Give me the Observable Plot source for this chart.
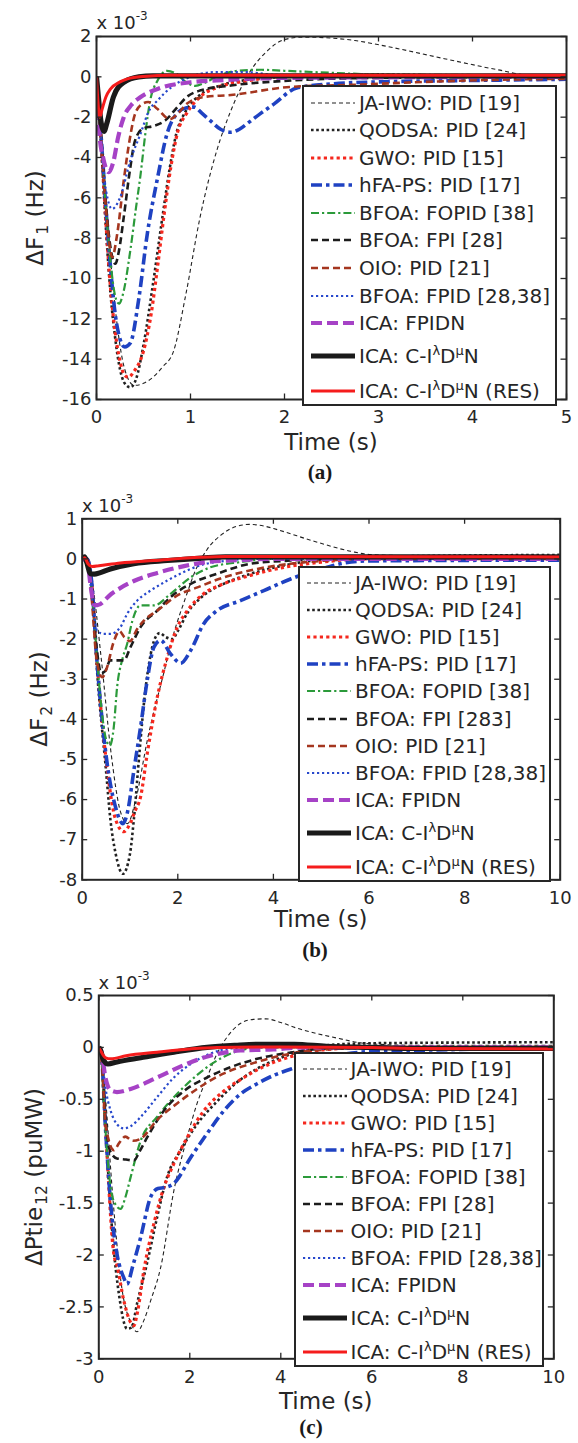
<!DOCTYPE html>
<html><head><meta charset="utf-8">
<script src="https://cdn.jsdelivr.net/npm/d3@7"></script>
<script src="https://cdn.jsdelivr.net/npm/@observablehq/plot@0.6"></script>
<style>
body{margin:0;background:#fff;}
#fig{position:relative;width:578px;height:1443px;overflow:hidden;background:#fff;font-family:"DejaVu Sans",sans-serif;color:#262626;}
.lbl{position:absolute;white-space:nowrap;line-height:1;}
.legend{position:absolute;background:#fff;border:2px solid #262626;box-sizing:border-box;}
.legend .row{position:absolute;white-space:nowrap;line-height:1;font-size:20px;transform:translateY(-50%);}
.legend svg{position:absolute;overflow:visible;}
.sup{font-size:0.65em;position:relative;top:-0.62em;vertical-align:baseline;}
.sub{font-size:0.68em;position:relative;top:0.32em;vertical-align:baseline;margin-left:2px;}
</style>
</head><body><div id="fig"></div>
<script>
// ---------- tick values ----------
const xTicksA = [0, 1, 2, 3, 4, 5];
const yTicksA = [2, 0, -2, -4, -6, -8, -10, -12, -14, -16];
const xTicksB = [0, 2, 4, 6, 8, 10];
const yTicksB = [1, 0, -1, -2, -3, -4, -5, -6, -7, -8];
const xTicksC = [0, 2, 4, 6, 8, 10];
const yTicksC = [0.5, 0, -0.5, -1, -1.5, -2, -2.5, -3];

// ---------- legend labels ----------
const legendLabelsA = ["JA-IWO: PID [19]", "QODSA: PID [24]", "GWO: PID [15]", "hFA-PS: PID [17]", "BFOA: FOPID [38]", "BFOA: FPI [28]", "OIO: PID [21]", "BFOA: FPID [28,38]", "ICA: FPIDN", "ICA: C-I<span class='sup'>λ</span>D<span class='sup'>μ</span>N", "ICA: C-I<span class='sup'>λ</span>D<span class='sup'>μ</span>N (RES)"];
const legendLabelsB = ["JA-IWO: PID [19]", "QODSA: PID [24]", "GWO: PID [15]", "hFA-PS: PID [17]", "BFOA: FOPID [38]", "BFOA: FPI [283]", "OIO: PID [21]", "BFOA: FPID [28,38]", "ICA: FPIDN", "ICA: C-I<span class='sup'>λ</span>D<span class='sup'>μ</span>N", "ICA: C-I<span class='sup'>λ</span>D<span class='sup'>μ</span>N (RES)"];
const legendLabelsC = legendLabelsA;

// ---------- panel (a): ΔF1, [time s, value x1e-3] ----------
const a_JAIWO = [[0,0],[0.05,-2.5],[0.1,-6],[0.2,-11.5],[0.3,-14.5],[0.4,-15.3],[0.5,-15.2],[0.6,-14.9],[0.7,-14.4],[0.82,-13.6],[0.95,-10.8],[1.1,-7.0],[1.28,-3.65],[1.43,-1.67],[1.6,0],[1.82,1.3],[2.0,1.85],[2.2,1.97],[2.5,1.92],[2.75,1.8],[3.1,1.5],[3.7,0.9],[4.27,0.35],[4.6,0.08],[5,0.05]];
const a_QODSA = [[0,0],[0.05,-3.5],[0.1,-7.5],[0.15,-10.8],[0.2,-13],[0.25,-14.5],[0.3,-15.2],[0.36,-15.4],[0.42,-15.0],[0.5,-13.3],[0.6,-10.3],[0.7,-7.0],[0.78,-4.5],[0.85,-2.8],[0.95,-1.7],[1.1,-0.9],[1.3,-0.45],[1.6,-0.15],[2.0,0],[2.5,0.1],[3.0,0.12],[3.5,0.08],[5,0.05]];
const a_GWO = [[0,0],[0.05,-3.3],[0.1,-7.2],[0.15,-10.5],[0.2,-12.7],[0.25,-14.1],[0.3,-14.8],[0.34,-14.9],[0.4,-14.6],[0.5,-13.6],[0.58,-11.8],[0.65,-9.4],[0.72,-6.8],[0.79,-4.5],[0.86,-2.8],[0.96,-1.8],[1.1,-1.0],[1.3,-0.5],[1.6,-0.2],[2.0,0],[3,0.05],[5,0.05]];
const a_hFAPS = [[0,0],[0.05,-3],[0.1,-6.5],[0.15,-9.5],[0.2,-11.8],[0.25,-13.0],[0.3,-13.4],[0.36,-13.2],[0.45,-11.0],[0.54,-7.8],[0.65,-5.0],[0.75,-2.83],[0.85,-1.85],[0.95,-1.55],[1.04,-1.5],[1.12,-1.8],[1.21,-2.17],[1.32,-2.6],[1.43,-2.75],[1.52,-2.6],[1.6,-2.33],[1.75,-1.8],[1.89,-1.34],[2.13,-0.55],[2.5,-0.35],[3,-0.25],[4,-0.18],[5,-0.12]];
const a_FOPID = [[0,0],[0.05,-3],[0.1,-6.5],[0.15,-9.2],[0.2,-10.9],[0.24,-11.25],[0.28,-10.8],[0.36,-8.6],[0.42,-6.5],[0.47,-4.8],[0.52,-2.8],[0.57,-1.2],[0.65,-0.18],[0.75,0.3],[0.85,0.15],[0.95,-0.25],[1.05,-0.45],[1.15,-0.3],[1.3,0.05],[1.5,0.3],[1.75,0.35],[2.0,0.3],[2.5,0.2],[3,0.12],[5,0.08]];
const a_FPI = [[0,0],[0.05,-3],[0.1,-6.3],[0.15,-8.5],[0.2,-9.27],[0.24,-8.6],[0.29,-6.96],[0.36,-4.48],[0.41,-3.16],[0.5,-2.55],[0.6,-2.45],[0.73,-2.17],[0.86,-1.5],[0.96,-1.0],[1.1,-0.68],[1.43,-0.43],[2.0,-0.2],[3,-0.05],[5,0]];
const a_OIO = [[0,0],[0.05,-3.2],[0.1,-6.5],[0.167,-8.94],[0.22,-7.8],[0.29,-5.14],[0.35,-3.2],[0.4,-2.0],[0.47,-1.4],[0.55,-1.25],[0.65,-1.6],[0.78,-2.1],[0.87,-1.8],[0.96,-1.34],[1.14,-1.0],[1.43,-0.9],[2.06,-0.5],[2.7,-0.4],[3.5,-0.25],[4.2,-0.15],[5,-0.1]];
const a_FPID = [[0,0],[0.05,-3],[0.1,-5.6],[0.167,-6.55],[0.25,-6.0],[0.36,-4.15],[0.47,-2.8],[0.56,-1.67],[0.65,-1.17],[0.8,-0.5],[1.0,0],[1.25,0.23],[1.6,0.23],[1.9,0.1],[2.5,0.05],[5,0.05]];
const a_FPIDN = [[0,0],[0.03,-2.8],[0.07,-4.0],[0.13,-4.73],[0.18,-4.2],[0.23,-3.0],[0.29,-2.0],[0.37,-1.4],[0.47,-1.0],[0.68,-0.55],[1.0,-0.27],[1.28,-0.18],[2.0,-0.05],[5,0]];
const a_CIDN = [[0,0],[0.02,-1.0],[0.05,-2.3],[0.08,-2.7],[0.11,-2.3],[0.18,-1.0],[0.29,-0.27],[0.45,0],[0.6,0.05],[5,0.05]];
const a_RES = [[0,0],[0.015,-1.2],[0.035,-2.0],[0.06,-1.6],[0.1,-1.0],[0.15,-0.6],[0.25,-0.25],[0.33,-0.1],[0.5,0.02],[0.8,0.08],[5,0.08]];

// ---------- panel (b): ΔF2 ----------
const b_JAIWO = [[0,0],[0.1,0],[0.2,-0.5],[0.4,-2.5],[0.6,-4.8],[0.8,-6.3],[0.95,-6.6],[1.1,-6.1],[1.38,-4.42],[1.69,-2.92],[1.92,-1.84],[2.15,-1.01],[2.38,-0.26],[2.61,0.23],[2.92,0.61],[3.2,0.8],[3.5,0.86],[3.8,0.82],[4.08,0.73],[4.85,0.44],[5.62,0.19],[6.01,0.11],[7,0.08],[10,0.08]];
const b_QODSA = [[0,0],[0.1,0],[0.2,-0.6],[0.3,-2.6],[0.5,-5.3],[0.59,-6.5],[0.7,-7.35],[0.85,-7.85],[1.0,-7.35],[1.08,-6.5],[1.2,-4.8],[1.3,-3.5],[1.4,-2.6],[1.5,-2.05],[1.62,-1.85],[1.75,-1.95],[1.88,-2.0],[2.0,-1.8],[2.2,-1.35],[2.5,-0.95],[3,-0.6],[3.5,-0.38],[4,-0.22],[4.5,-0.1],[5,-0.02],[6,0.05],[10,0.1]];
const b_GWO = [[0,0],[0.1,0],[0.2,-0.6],[0.3,-2.4],[0.5,-5.0],[0.7,-6.5],[0.87,-6.8],[1.0,-6.6],[1.1,-6.3],[1.22,-5.94],[1.36,-4.86],[1.57,-3.45],[1.78,-2.45],[1.99,-1.7],[2.2,-1.29],[2.54,-0.87],[2.96,-0.62],[3.52,-0.41],[4.22,-0.21],[5,-0.08],[6,0],[10,0.02]];
const b_hFAPS = [[0,0],[0.1,0],[0.2,-0.6],[0.3,-2.4],[0.5,-4.9],[0.7,-6.2],[0.85,-6.6],[0.95,-6.3],[1.08,-5.28],[1.22,-4.2],[1.36,-3.03],[1.5,-2.2],[1.64,-2.03],[1.85,-2.37],[2.06,-2.6],[2.27,-2.28],[2.54,-1.62],[2.82,-1.29],[3.31,-1.04],[3.8,-0.79],[4.36,-0.5],[5,-0.25],[5.5,-0.1],[6,-0.05],[10,-0.03]];
const b_FOPID = [[0,0],[0.1,0],[0.2,-0.8],[0.3,-2.3],[0.4,-3.7],[0.5,-4.5],[0.58,-4.65],[0.66,-4.2],[0.73,-3.2],[0.84,-2.5],[0.94,-2.12],[1.05,-1.54],[1.22,-1.16],[1.5,-1.16],[1.85,-0.87],[2.27,-0.46],[2.68,-0.21],[3.31,-0.08],[4,0],[10,0.02]];
const b_FPI = [[0,0],[0.1,0],[0.2,-0.9],[0.3,-2.2],[0.4,-2.85],[0.48,-2.8],[0.59,-2.53],[0.87,-2.53],[1.01,-2.2],[1.22,-1.7],[1.57,-1.29],[1.85,-0.95],[2.27,-0.62],[2.82,-0.37],[3.52,-0.12],[4.36,-0.04],[5,0],[10,0.02]];
const b_OIO = [[0,0],[0.1,0],[0.2,-1.0],[0.3,-2.5],[0.42,-2.95],[0.52,-2.7],[0.65,-2.1],[0.78,-1.8],[0.88,-1.95],[1.0,-2.05],[1.15,-1.75],[1.29,-1.54],[1.57,-1.29],[1.99,-0.91],[2.41,-0.71],[2.96,-0.46],[3.66,-0.25],[4.36,-0.12],[5,-0.05],[6,0],[10,0]];
const b_FPID = [[0,0],[0.1,0],[0.2,-0.9],[0.31,-1.79],[0.45,-1.87],[0.59,-1.87],[0.8,-1.7],[0.94,-1.37],[1.15,-1.04],[1.43,-0.79],[1.78,-0.54],[2.0,-0.4],[2.5,-0.15],[3,-0.05],[3.5,0],[10,0]];
const b_FPIDN = [[0,0],[0.1,-0.05],[0.18,-0.7],[0.25,-1.15],[0.32,-1.15],[0.6,-0.88],[1.08,-0.55],[1.57,-0.35],[2.13,-0.18],[2.6,-0.08],[3.3,-0.03],[4,0],[10,0]];
const b_CIDN = [[0,0],[0.05,0.05],[0.1,-0.1],[0.17,-0.37],[0.25,-0.38],[0.59,-0.25],[1.08,-0.12],[1.78,-0.04],[2.5,0.02],[3,0.05],[10,0.05]];
const b_RES = [[0,0],[0.05,0.03],[0.12,-0.12],[0.21,-0.19],[0.35,-0.17],[0.8,-0.1],[1.5,-0.04],[2.47,0.04],[3,0.06],[10,0.05]];

// ---------- panel (c): ΔPtie12 ----------
const c_JAIWO = [[0,0],[0.05,-0.05],[0.15,-0.5],[0.3,-1.4],[0.5,-2.3],[0.7,-2.65],[0.84,-2.74],[1.0,-2.62],[1.14,-2.44],[1.36,-2.12],[1.65,-1.38],[1.94,-0.87],[2.16,-0.54],[2.38,-0.29],[2.6,-0.06],[2.82,0.1],[3.11,0.23],[3.4,0.27],[3.67,0.275],[4.0,0.24],[4.32,0.19],[5.13,0.1],[5.94,0.035],[7,0.02],[10,0.02]];
const c_QODSA = [[0,0],[0.05,-0.05],[0.15,-0.8],[0.3,-1.8],[0.45,-2.4],[0.62,-2.71],[0.72,-2.7],[0.84,-2.47],[1.06,-2.08],[1.28,-1.64],[1.5,-1.25],[1.8,-0.99],[2.16,-0.74],[2.6,-0.52],[3.0,-0.35],[3.5,-0.2],[4,-0.1],[4.5,-0.03],[5,0.02],[6,0.04],[10,0.05]];
const c_GWO = [[0,0],[0.05,-0.05],[0.15,-0.8],[0.33,-1.99],[0.4,-2.1],[0.55,-2.44],[0.7,-2.65],[0.77,-2.68],[0.85,-2.55],[0.99,-2.15],[1.21,-1.7],[1.43,-1.35],[1.65,-1.12],[1.94,-0.87],[2.31,-0.61],[2.75,-0.42],[3.19,-0.29],[3.6,-0.19],[4.21,-0.09],[5,-0.02],[6,0],[10,0]];
const c_hFAPS = [[0,0],[0.05,-0.05],[0.15,-0.8],[0.26,-1.5],[0.4,-1.99],[0.55,-2.22],[0.62,-2.28],[0.75,-2.1],[0.92,-1.83],[1.14,-1.44],[1.3,-1.36],[1.45,-1.35],[1.65,-1.31],[2.02,-1.06],[2.38,-0.83],[2.75,-0.61],[3.11,-0.45],[3.48,-0.35],[3.84,-0.27],[4.21,-0.21],[5,-0.1],[6,-0.04],[10,-0.01]];
const c_FOPID = [[0,0],[0.05,-0.05],[0.11,-0.54],[0.2,-1.1],[0.26,-1.35],[0.35,-1.5],[0.48,-1.555],[0.58,-1.45],[0.7,-1.25],[0.92,-0.9],[1.28,-0.67],[1.65,-0.48],[2.02,-0.32],[2.38,-0.19],[2.75,-0.09],[3.1,-0.03],[3.5,0],[10,0]];
const c_FPI = [[0,0],[0.05,-0.05],[0.15,-0.7],[0.25,-1.0],[0.4,-1.07],[0.6,-1.08],[0.77,-1.09],[0.9,-1.0],[1.06,-0.87],[1.43,-0.61],[1.87,-0.42],[2.38,-0.29],[2.9,-0.19],[3.48,-0.11],[4.21,-0.05],[5,-0.01],[6,0],[10,0]];
const c_OIO = [[0,0],[0.05,-0.05],[0.15,-0.75],[0.33,-0.99],[0.45,-0.92],[0.58,-0.86],[0.75,-0.9],[0.92,-0.88],[1.28,-0.7],[1.72,-0.54],[2.16,-0.4],[2.75,-0.25],[3.33,-0.16],[4.21,-0.06],[5,-0.02],[6,0],[10,0]];
const c_FPID = [[0,0],[0.05,-0.05],[0.15,-0.4],[0.26,-0.61],[0.4,-0.74],[0.55,-0.78],[0.7,-0.76],[0.92,-0.67],[1.28,-0.48],[1.65,-0.29],[2.02,-0.16],[2.45,-0.06],[2.9,-0.01],[3.5,0],[10,0]];
const c_FPIDN = [[0,0],[0.05,-0.03],[0.15,-0.3],[0.25,-0.41],[0.4,-0.43],[0.7,-0.4],[1.28,-0.29],[1.87,-0.17],[2.45,-0.08],[3.11,-0.03],[3.84,-0.02],[4.5,0],[10,0]];
const c_CIDN = [[0,0],[0.04,-0.03],[0.1,-0.12],[0.2,-0.16],[0.4,-0.14],[0.92,-0.1],[1.65,-0.046],[2.38,0],[3.0,0.02],[3.5,0.03],[4.3,0.03],[5,0.01],[6,0],[7,-0.01],[10,-0.01]];
const c_RES = [[0,0],[0.05,-0.04],[0.15,-0.1],[0.26,-0.11],[0.6,-0.08],[1.28,-0.046],[2.0,-0.015],[2.6,0],[4,0.005],[6,0],[7,-0.01],[10,-0.015]];

// ---------- series styles (legend order = draw order) ----------
const ink = "#262626";
const styles = [
  {stroke:"#222222", width:1.1, dash:"4,3"},
  {stroke:"#222222", width:2.6, dash:"2.6,2.6"},
  {stroke:"#f5281e", width:3.2, dash:"3.2,3.2"},
  {stroke:"#1f42c2", width:3.6, dash:"11,4,3.5,4"},
  {stroke:"#2b9a3a", width:2.2, dash:"8,3,2.2,3"},
  {stroke:"#1c1c1c", width:2.6, dash:"7,4"},
  {stroke:"#a5361f", width:2.6, dash:"7,4"},
  {stroke:"#2748cc", width:2.2, dash:"2.2,2.8"},
  {stroke:"#a642c6", width:4.2, dash:"11,5"},
  {stroke:"#1a1a1a", width:5.2, dash:null},
  {stroke:"#f51c1c", width:3.0, dash:null}
];

const W = 578;
const fig = document.getElementById("fig");

const panels = [
  {svgTop:0, svgH:430, mL:96, mR:12, mT:36, mB:31, xDomain:[0,5], yDomain:[-16,2], xTicks:xTicksA, yTicks:yTicksA,
   series:[a_JAIWO,a_QODSA,a_GWO,a_hFAPS,a_FOPID,a_FPI,a_OIO,a_FPID,a_FPIDN,a_CIDN,a_RES], labels:legendLabelsA,
   legend:{left:302, top:85, w:254.5, h:321},
   scale:{x:96.5, y:23}, xlab:{x:331, y:441.7}, ylab:{x:35, y:217.5, html:"ΔF<span class='sub'>1</span>&nbsp;(Hz)"}, cap:{x:320, y:472, t:"(a)"}},
  {svgTop:480, svgH:430, mL:81.7, mR:18.3, mT:38.3, mB:30.7, xDomain:[0,10], yDomain:[-8,1], xTicks:xTicksB, yTicks:yTicksB,
   series:[b_JAIWO,b_QODSA,b_GWO,b_hFAPS,b_FOPID,b_FPI,b_OIO,b_FPID,b_FPIDN,b_CIDN,b_RES], labels:legendLabelsB,
   legend:{left:298, top:565.6, w:253.3, h:316},
   scale:{x:82, y:505.5}, xlab:{x:320.7, y:919}, ylab:{x:38.7, y:698.8, html:"ΔF<span class='sub'>2</span>&nbsp;(Hz)"}, cap:{x:315, y:950, t:"(b)"}},
  {svgTop:960, svgH:430, mL:98.3, mR:24.7, mT:35, mB:31.7, xDomain:[0,10], yDomain:[-3,0.5], xTicks:xTicksC, yTicks:yTicksC,
   series:[c_JAIWO,c_QODSA,c_GWO,c_hFAPS,c_FOPID,c_FPI,c_OIO,c_FPID,c_FPIDN,c_CIDN,c_RES], labels:legendLabelsC,
   legend:{left:293.6, top:1051.7, w:250.4, h:315},
   scale:{x:98.5, y:982.5}, xlab:{x:325.8, y:1400.5}, ylab:{x:34, y:1176.7, html:"ΔPtie<span class='sub'>12</span>&nbsp;(puMW)"}, cap:{x:311, y:1427, t:"(c)"}}
];

const rowBase = [17.5, 44.7, 71.9, 99.1, 126.3, 153.5, 180.7, 207.9, 235.1, 268, 302.5];

function addLabel(html, x, y, css, tr) {
  const el = document.createElement("div");
  el.className = "lbl";
  el.innerHTML = html;
  el.style.left = x + "px";
  el.style.top = y + "px";
  el.style.transform = tr || "translate(-50%,-50%)";
  Object.assign(el.style, css || {});
  fig.appendChild(el);
  return el;
}

for (const p of panels) {
  const innerH = p.svgH - p.mT - p.mB;
  const innerW = W - p.mL - p.mR;
  const lines = p.series.map((pts, i) => Plot.line(pts, {
    x: d => d[0], y: d => d[1], curve: "monotone-x", clip: true,
    stroke: styles[i].stroke, strokeWidth: styles[i].width,
    strokeDasharray: styles[i].dash || undefined,
    strokeLinecap: "butt", strokeLinejoin: "round"
  }));
  const tk = {stroke: ink, strokeWidth: 1.3};
  const svg = Plot.plot({
    width: W, height: p.svgH,
    marginLeft: p.mL, marginRight: p.mR, marginTop: p.mT, marginBottom: p.mB,
    x: {domain: p.xDomain}, y: {domain: p.yDomain},
    style: {fontFamily: "'DejaVu Sans', sans-serif", fontSize: "18px", color: ink, background: "transparent", overflow: "visible"},
    marks: [
      ...lines,
      Plot.ruleX(p.xTicks, {x: d => d, insetTop: innerH - 5.5, ...tk}),
      Plot.ruleX(p.xTicks, {x: d => d, insetBottom: innerH - 5.5, ...tk}),
      Plot.ruleY(p.yTicks, {y: d => d, insetRight: innerW - 5.5, ...tk}),
      Plot.ruleY(p.yTicks, {y: d => d, insetLeft: innerW - 5.5, ...tk}),
      Plot.frame({stroke: ink, strokeWidth: 2}),
      Plot.axisX({ticks: p.xTicks, tickSize: 0, tickPadding: 11, tickFormat: d => String(d), label: null}),
      Plot.axisY({ticks: p.yTicks, tickSize: 0, tickPadding: 5, tickFormat: d => String(d), label: null})
    ]
  });
  svg.style.position = "absolute";
  svg.style.left = "0px";
  svg.style.top = p.svgTop + "px";
  fig.appendChild(svg);

  // scale multiplier
  addLabel("x 10<span style='font-size:12px;position:relative;top:-9px;vertical-align:baseline;'>-3</span>",
    p.scale.x, p.scale.y, {fontSize: "18px"}, "translate(0,-50%)");
  // axis titles
  addLabel("Time (s)", p.xlab.x, p.xlab.y, {fontSize: "23px"});
  addLabel(p.ylab.html, p.ylab.x, p.ylab.y, {fontSize: "23px"}, "translate(-50%,-50%) rotate(-90deg)");
  // caption
  addLabel(p.cap.t, p.cap.x, p.cap.y, {fontSize: "21px", fontFamily: "'Liberation Serif', 'Times New Roman', serif", fontWeight: "bold", color: "#1a1a1a"});

  // legend
  const lg = document.createElement("div");
  lg.className = "legend";
  Object.assign(lg.style, {left: p.legend.left + "px", top: p.legend.top + "px", width: p.legend.w + "px", height: p.legend.h + "px"});
  const f = p.legend.h / 317;
  p.labels.forEach((lab, i) => {
    const ry = rowBase[i] * f - 2;
    const s = styles[i];
    const ns = "http://www.w3.org/2000/svg";
    const sw = document.createElementNS(ns, "svg");
    sw.setAttribute("width", "46"); sw.setAttribute("height", "12");
    sw.style.left = "7px"; sw.style.top = (ry - 6) + "px";
    const ln = document.createElementNS(ns, "line");
    ln.setAttribute("x1", "0"); ln.setAttribute("x2", "44");
    ln.setAttribute("y1", "6"); ln.setAttribute("y2", "6");
    ln.setAttribute("stroke", s.stroke);
    ln.setAttribute("stroke-width", s.width);
    if (s.dash) ln.setAttribute("stroke-dasharray", s.dash);
    sw.appendChild(ln);
    lg.appendChild(sw);
    const t = document.createElement("div");
    t.className = "row";
    t.style.left = "55px";
    t.style.top = ry + "px";
    t.innerHTML = lab;
    lg.appendChild(t);
  });
  fig.appendChild(lg);
}
</script>
</body></html>
